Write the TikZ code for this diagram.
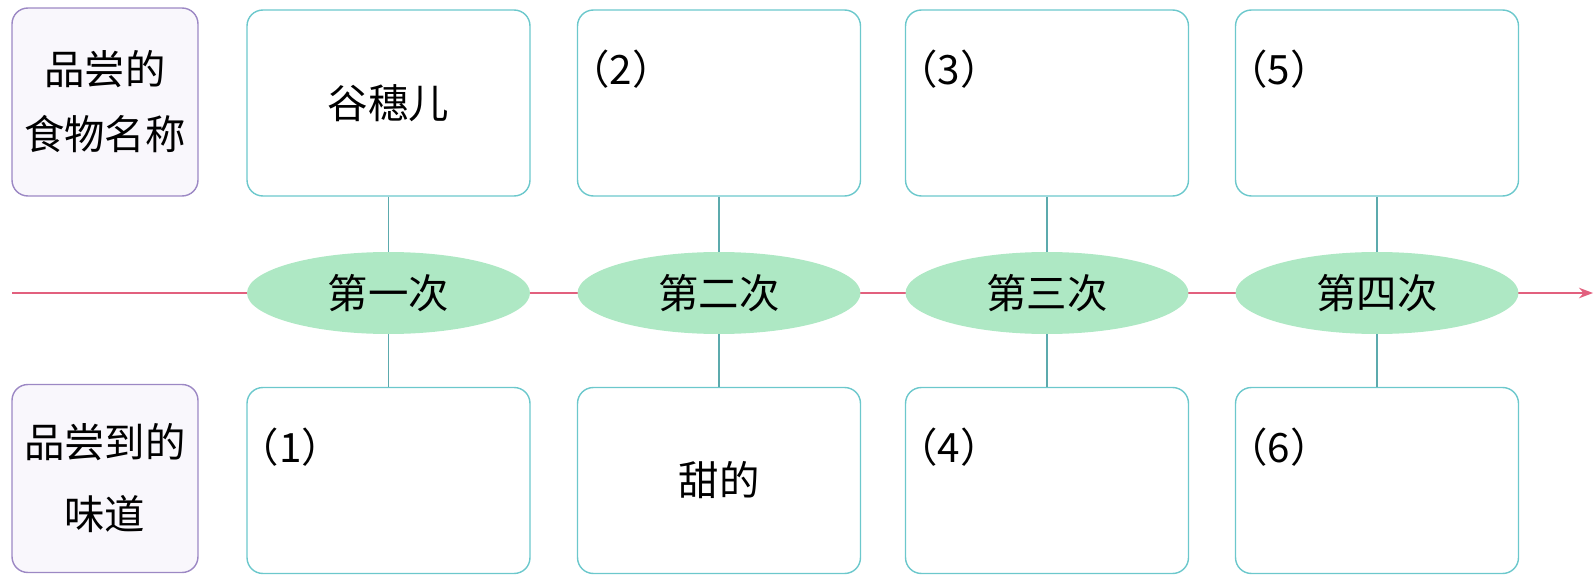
\documentclass[tikz,border=0pt]{standalone}
\usepackage{fontspec}
\newfontfamily\cjk{Noto Sans CJK SC}
\usepackage{tikz}
\usetikzlibrary{arrows.meta,positioning,shapes.geometric}
\definecolor{boxline}{HTML}{6CC8CC}
\definecolor{tagline}{HTML}{9C88C4}
\definecolor{tagfill}{HTML}{F9F7FC}
\definecolor{roundfill}{HTML}{AEE8C4}
\definecolor{timeline}{HTML}{E2607E}

\begin{document}
\begin{tikzpicture}[x=0.02cm,y=-0.02cm,
  every node/.style={font=\cjk\fontsize{23}{37}\selectfont},
  tag/.style={draw=tagline,fill=tagfill,rounded corners=9pt,line width=0.8pt,minimum width=3.72cm,minimum height=3.76cm,align=center,inner sep=0pt},
  foodbox/.style={draw=boxline,rounded corners=9pt,line width=0.8pt,minimum width=5.66cm,minimum height=3.72cm,inner sep=0pt},
  tasting/.style={ellipse,fill=roundfill,minimum width=5.66cm,minimum height=1.64cm,inner sep=0pt},
  link/.style={draw=boxline!85!black,line width=0.8pt}]
  \useasboundingbox (0,0) rectangle (1595,581);
  % time axis
  \coordinate (start) at (12,293);
  \coordinate (end) at (1593,293);
  \draw[timeline,line width=0.8pt,-{Stealth[length=8pt,width=6pt]}] (start) -- (end);
  % row headers
  \node[tag] (nameTag) at (105,102) {品尝的\\食物名称};
  \node[tag] (tasteTag) at (105,478.5) {品尝到的\\[4pt]味道};
  % answer boxes and rounds
  \foreach \i/\x/\n in {1/388.5/一,2/719/二,3/1047/三,4/1377/四}{
    \node[foodbox] (food\i) at (\x,103) {};
    \node[foodbox] (taste\i) at (\x,480.5) {};
    \node[tasting] (round\i) at (\x,293) {第\n 次};
    \draw[link] (food\i) -- (round\i);
    \draw[link] (round\i) -- (taste\i);
  }
  \node (food1text) at (food1) {谷穗儿};
  \node (taste2text) at (taste2) {甜的};
  \node (blank2) at ([shift={(44,60)}]food2.north west) {（2）};
  \node (blank3) at ([shift={(44,60)}]food3.north west) {（3）};
  \node (blank5) at ([shift={(44,60)}]food4.north west) {（5）};
  \node (blank1) at ([shift={(44,60)}]taste1.north west) {（1）};
  \node (blank4) at ([shift={(44,60)}]taste3.north west) {（4）};
  \node (blank6) at ([shift={(44,60)}]taste4.north west) {（6）};
\end{tikzpicture}
\end{document}
